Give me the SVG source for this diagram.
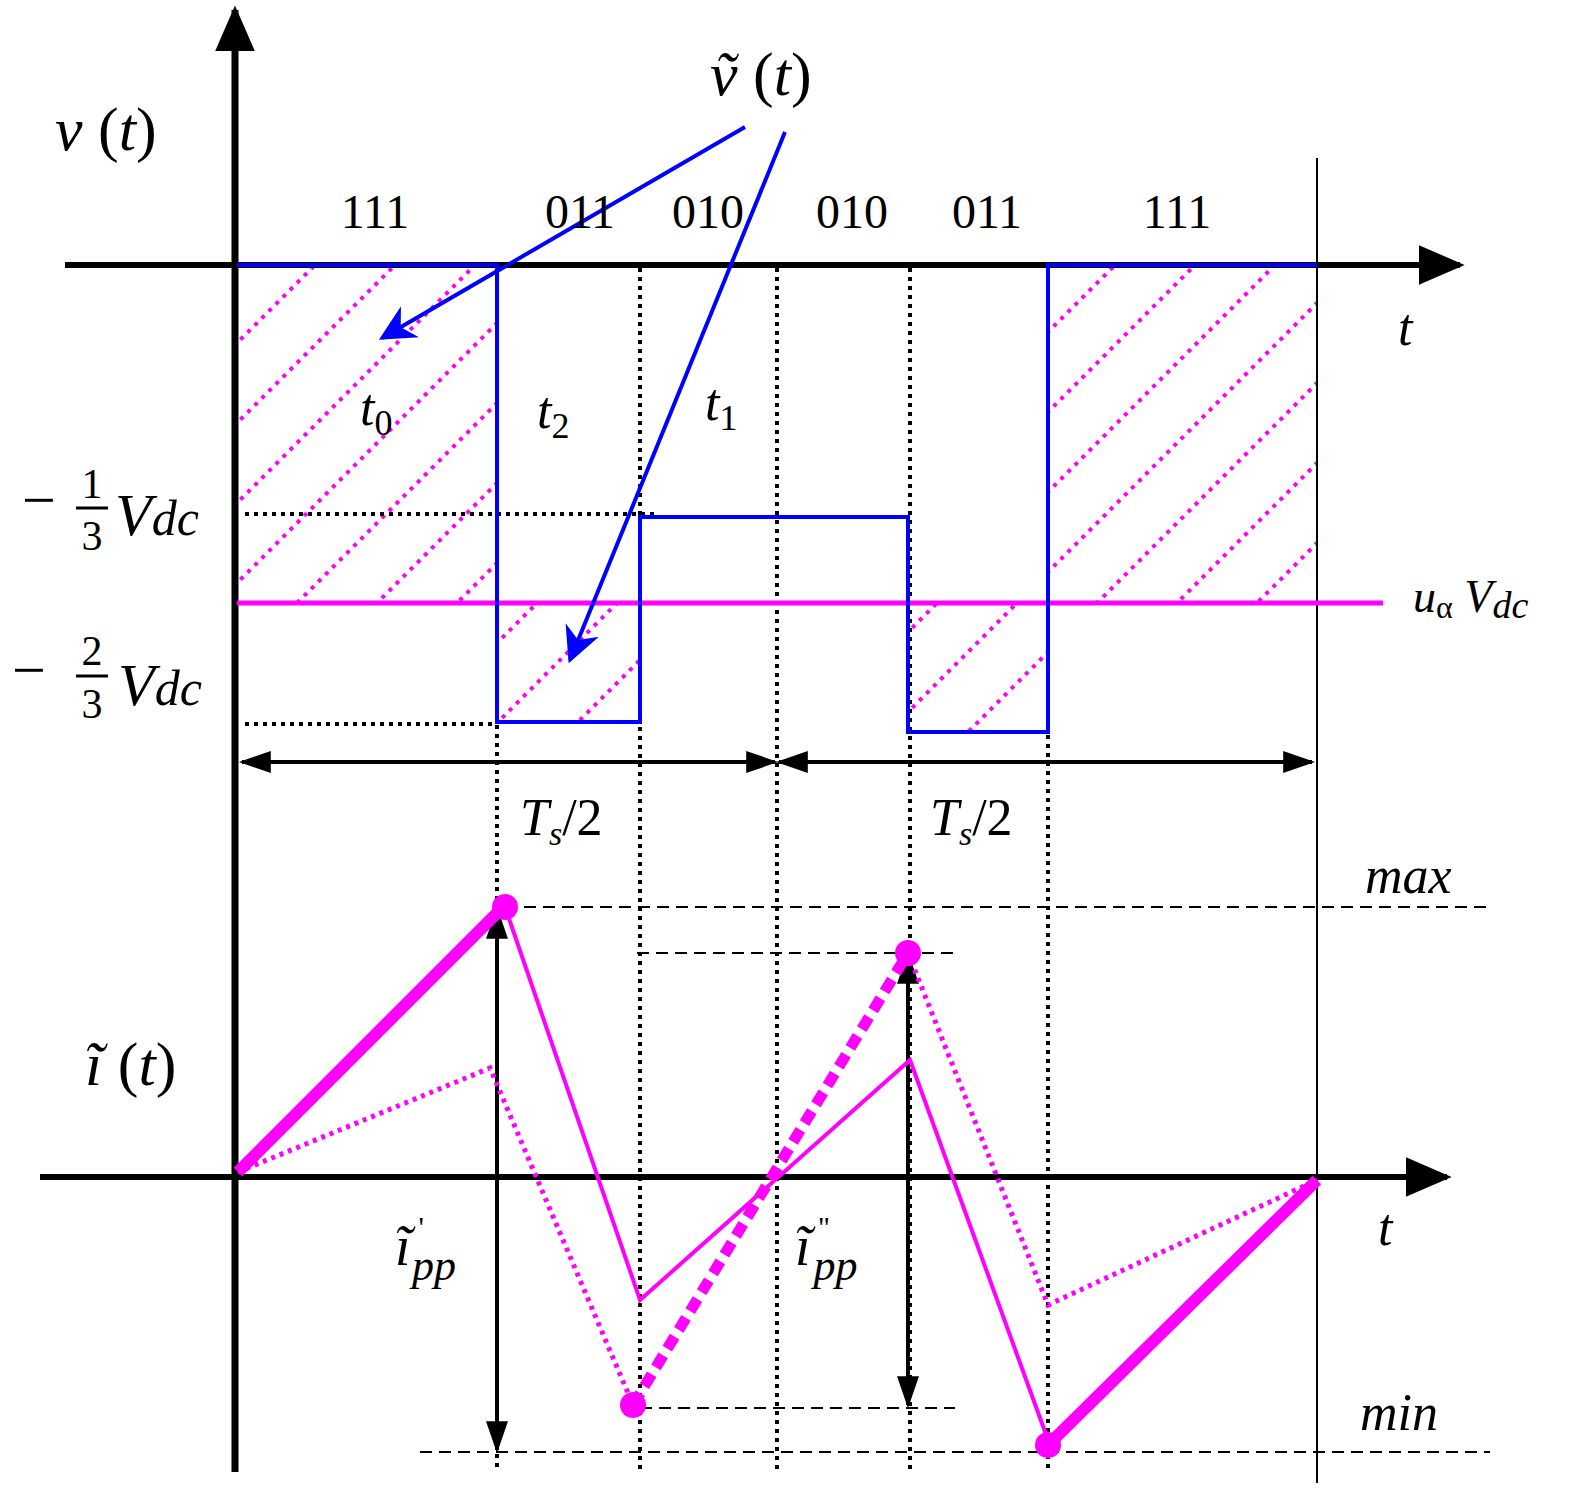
<svg xmlns="http://www.w3.org/2000/svg" width="1569" height="1497" viewBox="0 0 1569 1497">
<style>
.ax{stroke:#000;stroke-width:6;fill:none}
.bl{stroke:#0000ff;stroke-width:4;fill:none}
.mg{stroke:#ff00ff;fill:none}
.hat{stroke:#ff00ff;stroke-width:4;stroke-dasharray:4 6;fill:none}
.dv{stroke:#000;stroke-width:4;stroke-dasharray:4 5;fill:none}
.ds{stroke:#000;stroke-width:2;stroke-dasharray:12 7;fill:none}
text{font-family:"Liberation Serif",serif;fill:#000}
.it{font-style:italic}
</style>
<defs>
<marker id="ahl" viewBox="0 0 10 10" refX="9" refY="5" markerWidth="46" markerHeight="40" orient="auto" markerUnits="userSpaceOnUse" preserveAspectRatio="none"><path d="M0,0 L10,5 L0,10 z" fill="#000"/></marker>
<marker id="ah" viewBox="0 0 10 10" refX="9" refY="5" markerWidth="32" markerHeight="22" orient="auto-start-reverse" markerUnits="userSpaceOnUse" preserveAspectRatio="none"><path d="M0,0 L10,5 L0,10 z" fill="#000"/></marker>
<marker id="ab" viewBox="0 0 10 10" refX="9" refY="5" markerWidth="9" markerHeight="9" orient="auto" markerUnits="strokeWidth"><path d="M0,0 L10,5 L0,10 L3,5 z" fill="#0000ff"/></marker>
<clipPath id="c1"><rect x="237" y="267" width="260" height="336"/><rect x="497" y="603" width="143" height="119"/><rect x="910" y="603" width="138" height="129"/><rect x="1048" y="267" width="269" height="336"/></clipPath>
</defs>
<g clip-path="url(#c1)">
<path class="hat" d="M0,500 L500,0 M0,580 L580,0 M0,660 L660,0 M0,740 L740,0 M0,820 L820,0 M0,900 L900,0 M0,980 L980,0 M0,1060 L1060,0 M0,1140 L1140,0 M0,1220 L1220,0 M0,1300 L1300,0 M0,1380 L1380,0 M0,1460 L1460,0 M0,1540 L1540,0 M0,1620 L1620,0 M0,1700 L1700,0 M0,1780 L1780,0 M0,1860 L1860,0 M0,1940 L1940,0 M0,2020 L2020,0 M0,2100 L2100,0"/>
</g>
<g id="axes">
<line class="ax" x1="235" y1="1472" x2="235" y2="10" marker-end="url(#ahl)" style="stroke-width:7"/>
<line class="ax" x1="65" y1="265" x2="1460" y2="265" marker-end="url(#ahl)"/>
<line class="ax" x1="40" y1="1177" x2="1447" y2="1177" marker-end="url(#ahl)"/>
<line x1="1317" y1="158" x2="1317" y2="1483" stroke="#000" stroke-width="2"/>
</g>
<g id="guides">
<path class="dv" d="M640,268 V1470 M777,268 V1470 M910,268 V1470 M497,725 V1470 M1048,735 V1470 M245,514 H655 M245,724 H497"/>
<path class="ds" d="M505,907 H1490 M637,953 H955 M640,1408 H955 M420,1452 H1490"/>
<line class="ax" style="stroke-width:4" x1="242" y1="762" x2="775" y2="762" marker-start="url(#ah)" marker-end="url(#ah)"/>
<line class="ax" style="stroke-width:4" x1="779" y1="762" x2="1312" y2="762" marker-start="url(#ah)" marker-end="url(#ah)"/>
<line class="ax" style="stroke-width:4" x1="497" y1="910" x2="497" y2="1450" marker-start="url(#ah)" marker-end="url(#ah)"/>
<line class="ax" style="stroke-width:4" x1="908" y1="955" x2="908" y2="1405" marker-start="url(#ah)" marker-end="url(#ah)"/>
</g>
<g id="voltage">
<line class="mg" stroke-width="5" x1="237" y1="603" x2="1383" y2="603"/>
<path class="bl" d="M237,265 H497 V722 H640 V517 H908 V732 H1048 V265 H1317"/>
<line class="bl" stroke-width="5" x1="745" y1="127" x2="382" y2="338" marker-end="url(#ab)"/>
<line class="bl" stroke-width="5" x1="785" y1="132" x2="570" y2="660" marker-end="url(#ab)"/>
</g>
<g id="current">
<path class="mg" stroke-width="12" d="M238,1172 L505,905 M1048,1445 L1317,1180"/>
<path class="mg" stroke-width="4" d="M505,907 L640,1300 L910,1060 L1048,1440"/>
<path class="mg" stroke-width="5" stroke-dasharray="4 5" d="M238,1172 L490,1068 L633,1405 M908,953 L1048,1305 L1317,1180"/>
<path class="mg" stroke-width="11" stroke-dasharray="14 8" d="M633,1405 L908,953"/>
<g fill="#ff00ff"><circle cx="505" cy="907" r="13"/><circle cx="633" cy="1405" r="13"/><circle cx="908" cy="953" r="13"/><circle cx="1048" cy="1445" r="13"/></g>
</g>
<g id="labels" font-size="48">
<text x="55" y="150" font-size="62"><tspan class="it">v</tspan> (<tspan class="it">t</tspan>)</text>
<text x="710" y="95" font-size="62"><tspan class="it">ṽ</tspan> (<tspan class="it">t</tspan>)</text>
<text x="375" y="228" text-anchor="middle">111</text>
<text x="580" y="228" text-anchor="middle">011</text>
<text x="708" y="228" text-anchor="middle">010</text>
<text x="852" y="228" text-anchor="middle">010</text>
<text x="987" y="228" text-anchor="middle">011</text>
<text x="1177" y="228" text-anchor="middle">111</text>
<text x="1398" y="345" class="it" font-size="52">t</text>
<text x="360" y="425" class="it" font-size="52">t<tspan font-size="36" dy="10" font-style="normal">0</tspan></text>
<text x="537" y="428" class="it" font-size="52">t<tspan font-size="36" dy="10" font-style="normal">2</tspan></text>
<text x="705" y="420" class="it" font-size="52">t<tspan font-size="36" dy="10" font-style="normal">1</tspan></text>
<text x="22" y="520" font-size="60">−</text>
<text x="92" y="498" font-size="42" text-anchor="middle">1</text>
<line x1="76" y1="508" x2="108" y2="508" stroke="#000" stroke-width="3"/>
<text x="92" y="550" font-size="42" text-anchor="middle">3</text>
<text x="115" y="535" class="it" font-size="60">V<tspan font-size="50">dc</tspan></text>
<text x="12" y="690" font-size="60">−</text>
<text x="92" y="665" font-size="42" text-anchor="middle">2</text>
<line x1="76" y1="676" x2="108" y2="676" stroke="#000" stroke-width="3"/>
<text x="92" y="718" font-size="42" text-anchor="middle">3</text>
<text x="118" y="705" class="it" font-size="60">V<tspan font-size="50">dc</tspan></text>
<text x="1413" y="612" class="it" font-size="46">u<tspan font-size="32" dy="6" font-style="normal">α</tspan><tspan dy="-6"> V</tspan><tspan font-size="38" dy="6">dc</tspan></text>
<text x="520" y="835" class="it" font-size="52">T<tspan font-size="34" dy="10">s</tspan><tspan dy="-10" font-style="normal">/2</tspan></text>
<text x="930" y="835" class="it" font-size="52">T<tspan font-size="34" dy="10">s</tspan><tspan dy="-10" font-style="normal">/2</tspan></text>
<text x="1365" y="893" class="it" font-size="52">max</text>
<text x="1360" y="1430" class="it" font-size="52">min</text>
<text x="85" y="1085" font-size="62"><tspan class="it">ĩ</tspan> (<tspan class="it">t</tspan>)</text>
<text x="395" y="1265" class="it" font-size="56">ĩ<tspan font-size="30" dx="8" dy="-28" font-style="normal">'</tspan><tspan font-size="44" dx="-12" dy="43">pp</tspan></text>
<text x="795" y="1265" class="it" font-size="56">ĩ<tspan font-size="30" dx="8" dy="-28" font-style="normal">''</tspan><tspan font-size="44" dx="-16" dy="43">pp</tspan></text>
<text x="1378" y="1245" class="it" font-size="52">t</text>
</g>
</svg>
